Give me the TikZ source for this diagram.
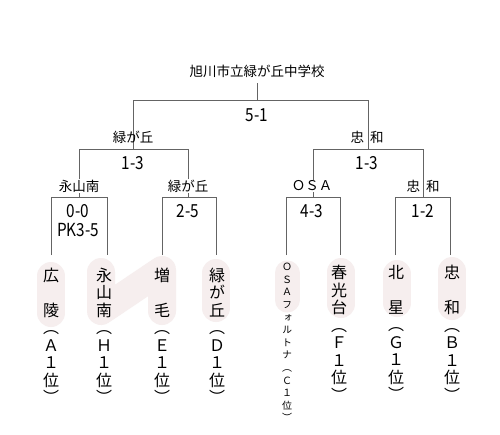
\documentclass[tikz,border=0pt]{standalone}
\usepackage{fontspec}
\setmainfont{Noto Sans CJK JP}
\newfontfamily\vfont[RawFeature=+vert]{Noto Sans CJK JP}
\newfontfamily\scfont[FakeStretch=0.85]{Noto Sans CJK JP}
\definecolor{pinkbg}{RGB}{246,238,238}
\definecolor{linec}{RGB}{100,100,100}
\begin{document}
\begin{tikzpicture}[x=1pt,y=-1pt,
  bline/.style={draw=linec, line width=0.9pt},
  lbl/.style={font=\fontsize{13.5}{14}\selectfont, inner sep=1pt},
  score/.style={font=\scfont\fontsize{18}{19}\selectfont, inner sep=0pt, align=center},
  vname/.style={font=\vfont\fontsize{16}{17.5}\selectfont, inner sep=0pt, align=center, anchor=north},
  vsmall/.style={font=\vfont\fontsize{10}{12.6}\selectfont, inner sep=0pt, align=center, anchor=north},
  hl/.style={draw=pinkbg, line width=28pt, line cap=round, line join=round}]
\useasboundingbox[fill=white] (0,0) rectangle (500,434);
% highlights
\draw[hl] (51,276) -- (51,313);
\draw[hl] (101,272) -- (101,311) -- (162,270) -- (162,311);
\draw[hl] (216,273) -- (216,308);
\draw[hl, line width=25pt] (287,273) -- (287,300);
\draw[hl] (341,272) -- (341,304);
\draw[hl] (397,274) -- (397,303);
\draw[hl] (452,271) -- (452,306);
% junction coordinates
\coordinate (ctop) at (257,83);
\coordinate (f) at (257,100);
\coordinate (sL) at (133,100);
\coordinate (sR) at (368,100);
\coordinate (sLb) at (133,149);
\coordinate (sRb) at (368,149);
\coordinate (q1) at (79,149);
\coordinate (q2) at (188,149);
\coordinate (q3) at (313,149);
\coordinate (q4) at (423,149);
\coordinate (q1b) at (79,197);
\coordinate (q2b) at (188,197);
\coordinate (q3b) at (313,197);
\coordinate (q4b) at (423,197);
\coordinate (t1) at (51,197);  \coordinate (t2) at (107,197);
\coordinate (t3) at (162,197); \coordinate (t4) at (216,197);
\coordinate (t5) at (286,197); \coordinate (t6) at (340,197);
\coordinate (t7) at (395,197); \coordinate (t8) at (450,197);
\coordinate (e1) at (51,255);  \coordinate (e2) at (107,255);
\coordinate (e3) at (162,255); \coordinate (e4) at (216,255);
\coordinate (e5) at (286,255); \coordinate (e6) at (340,255);
\coordinate (e7) at (395,255); \coordinate (e8) at (450,255);
% bracket lines
\draw[bline] (ctop) -- (f);
\draw[bline] (sLb) -- (sL) -- (sR) -- (sRb);
\draw[bline] (q1b) -- (q1) -- (q2) -- (q2b);
\draw[bline] (q3b) -- (q3) -- (q4) -- (q4b);
\draw[bline] (e1) -- (t1) -- (t2) -- (e2);
\draw[bline] (e3) -- (t3) -- (t4) -- (e4);
\draw[bline] (e5) -- (t5) -- (t6) -- (e6);
\draw[bline] (e7) -- (t7) -- (t8) -- (e8);
% labels
\node[lbl] (champ) at (257,71) {旭川市立緑が丘中学校};
\node[score] (s0) at (257,115) {5-1};
\node[lbl] (wL) at (133,137) {緑が丘};
\node[lbl] (wR) at (367,137) {忠\hspace{6pt}和};
\node[score] (s1) at (133,163) {1-3};
\node[score] (s2) at (367,163) {1-3};
\node[lbl, fill=white] (w1) at (79,186) {永山南};
\node[lbl, fill=white] (w2) at (188,186) {緑が丘};
\node[lbl, fill=white] (w3) at (312,186) {ＯＳＡ};
\node[lbl] (w4) at (423,186) {忠\hspace{6pt}和};
\node[score] (s3) at (78,220.5) {0-0\\PK3-5};
\node[score] (s4) at (188,211) {2-5};
\node[score] (s5) at (312,211) {4-3};
\node[score] (s6) at (423,211) {1-2};
% teams
\node[vname] (n1) at (51,267.5) {広\\　\\陵\\（\\Ａ\\１\\位\\）};
\node[vname] (n2) at (104,267.5) {永\\山\\南\\（\\Ｈ\\１\\位\\）};
\node[vname] (n3) at (162,267.5) {増\\　\\毛\\（\\Ｅ\\１\\位\\）};
\node[vname] (n4) at (217,267.5) {緑\\が\\丘\\（\\Ｄ\\１\\位\\）};
\node[vsmall] (n5) at (287,263) {Ｏ\\Ｓ\\Ａ\\フ\\ォ\\ル\\ト\\ナ\\（\\Ｃ\\１\\位\\）};
\node[vname] (n6) at (339,265) {春\\光\\台\\（\\Ｆ\\１\\位\\）};
\node[vname] (n7) at (396,265) {北\\　\\星\\（\\Ｇ\\１\\位\\）};
\node[vname] (n8) at (452,265) {忠\\　\\和\\（\\Ｂ\\１\\位\\）};
\end{tikzpicture}
\end{document}
